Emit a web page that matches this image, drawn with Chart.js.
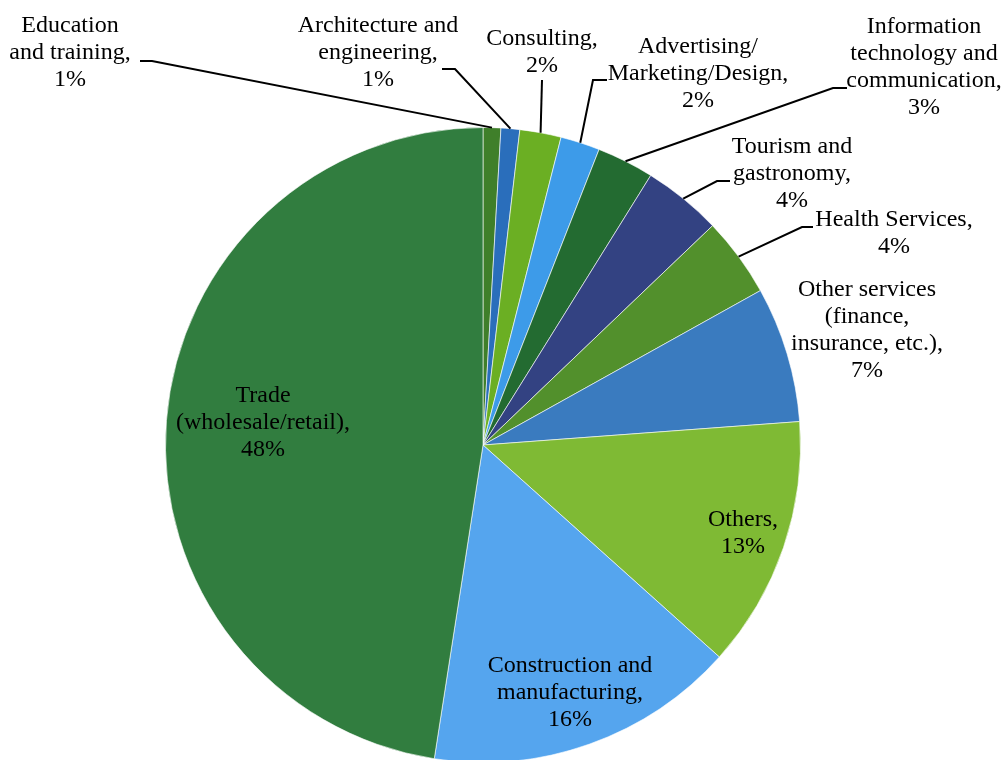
<!DOCTYPE html>
<html>
<head>
<meta charset="utf-8">
<script src="https://cdn.jsdelivr.net/npm/chart.js@4/dist/chart.umd.min.js"></script>
<style>
  html, body { margin: 0; padding: 0; background: #fff; }
  #wrap { width: 1004px; height: 760px; overflow: hidden; position: relative; }
</style>
</head>
<body>
<div id="wrap"><canvas id="c" width="1004" height="763"></canvas></div>
<script>
// ---- data ----
const categories = [
  'Education\nand training',
  'Architecture and\nengineering',
  'Consulting',
  'Advertising/\nMarketing/Design',
  'Information\ntechnology and\ncommunication',
  'Tourism and\ngastronomy',
  'Health Services',
  'Other services\n(finance,\ninsurance, etc.)',
  'Others',
  'Construction and\nmanufacturing',
  'Trade\n(wholesale/retail)'
];
const shares = [0.9, 0.95, 2.1, 2.0, 2.9, 4.0, 4.05, 6.9, 12.8, 15.8, 47.5];
const colors = ['#3F7F2A', '#2A6EBB', '#6BAF23', '#3D9BE9', '#236B31', '#334282',
                '#52902C', '#3A7BBF', '#7FBA34', '#55A5EE', '#317D3F'];

// ---- label layout (text centre of first line, optional leader stub) ----
const labelPos = [
  { x: 70,  y: 26,  stub: [140, 61, 152] },
  { x: 378, y: 26,  stub: [442, 69, 455] },
  { x: 542, y: 39,  vert: [542, 80] },
  { x: 698, y: 47,  stub: [607, 80, 593] },
  { x: 924, y: 27,  stub: [847, 88, 833] },
  { x: 792, y: 147, stub: [730, 181, 717] },
  { x: 894, y: 220, stub: [813, 227, 802] },
  { x: 867, y: 290 },
  { x: 743, y: 520 },
  { x: 570, y: 666 },
  { x: 263, y: 396 }
];
const lineH = 27;

const labelPlugin = {
  id: 'sliceLabels',
  afterDatasetsDraw(chart) {
    const ctx = chart.ctx;
    const meta = chart.getDatasetMeta(0);
    ctx.save();
    ctx.font = '24px "Liberation Serif", "Times New Roman", serif';
    ctx.fillStyle = '#000';
    ctx.textAlign = 'center';
    ctx.textBaseline = 'middle';
    meta.data.forEach((arc, i) => {
      const p = labelPos[i];
      const mid = (arc.startAngle + arc.endAngle) / 2;
      const ax = arc.x + Math.cos(mid) * arc.outerRadius;
      const ay = arc.y + Math.sin(mid) * arc.outerRadius;
      ctx.strokeStyle = '#000';
      ctx.lineWidth = 2;
      if (p.stub) {
        ctx.beginPath();
        ctx.moveTo(p.stub[0], p.stub[1]);
        ctx.lineTo(p.stub[2], p.stub[1]);
        ctx.lineTo(ax, ay);
        ctx.stroke();
      } else if (p.vert) {
        ctx.beginPath();
        ctx.moveTo(p.vert[0], p.vert[1]);
        ctx.lineTo(ax, ay);
        ctx.stroke();
      }
      const lines = categories[i].split('\n');
      lines[lines.length - 1] += ',';
      lines.push(Math.round(shares[i]) + '%');
      lines.forEach((t, k) => ctx.fillText(t, p.x, p.y + k * lineH));
    });
    ctx.restore();
  }
};

new Chart(document.getElementById('c'), {
  type: 'pie',
  data: {
    labels: categories,
    datasets: [{
      data: shares,
      backgroundColor: colors,
      borderColor: 'rgba(255,255,255,0.6)',
      borderWidth: 1
    }]
  },
  options: {
    responsive: false,
    animation: false,
    layout: { padding: { top: 127, bottom: 0, left: 140, right: 178 } },
    plugins: { legend: { display: false }, tooltip: { enabled: false } }
  },
  plugins: [labelPlugin]
});
</script>
</body>
</html>
